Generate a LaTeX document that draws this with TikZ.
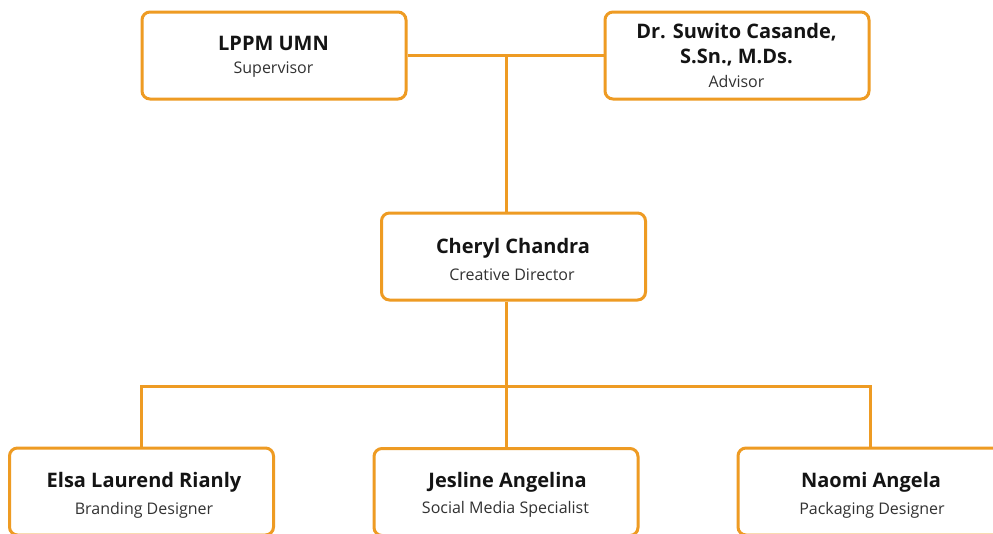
\documentclass[tikz,border=0pt]{standalone}
\usepackage{fontspec}
\setmainfont{Open Sans}
\definecolor{orgc}{RGB}{238,155,35}
\definecolor{namec}{RGB}{20,20,20}
\definecolor{subc}{RGB}{50,50,50}
\tikzset{
  orgbox/.style={draw=orgc, line width=2.25pt, rounded corners=6pt, fill=white,
    minimum width=198pt, minimum height=65.25pt, inner sep=0pt},
  nametext/.style={anchor=base, inner sep=0pt, text=namec, font=\fontsize{15}{18}\selectfont\bfseries},
  roletext/.style={anchor=base, inner sep=0pt, text=subc, font=\fontsize{12}{14}\selectfont},
  orgline/.style={draw=orgc, line width=2.25pt}
}
\begin{document}
\begin{tikzpicture}[x=0.75pt,y=-0.75pt]
\clip (0,0) rectangle (993,533);
\fill[white] (0,0) rectangle (993,533);
% boxes
\node[orgbox] (tl) at (274,55.5) {};
\node[orgbox] (tr) at (737,55.5) {};
\node[orgbox] (md) at (513.5,256.5) {};
\node[orgbox] (bl) at (141.5,491.5) {};
\node[orgbox] (bm) at (506,492) {};
\node[orgbox] (br) at (870,491.5) {};
% texts
\node[nametext] (tln) at (273.5,50.5) {LPPM UMN};
\node[roletext] (tlr) at (273.5,73.5) {Supervisor};
\node[nametext] (trn1) at (736.5,38.3) {Dr. Suwito Casande,};
\node[nametext] (trn2) at (736.5,63.3) {S.Sn., M.Ds.};
\node[roletext] (trr) at (736.5,87.3) {Advisor};
\node[nametext] (mdn) at (513,253.3) {Cheryl Chandra};
\node[roletext] (mdr) at (512,280.7) {Creative Director};
\node[nametext] (bln) at (144,487.3) {Elsa Laurend Rianly};
\node[roletext] (blr) at (144,514) {Branding Designer};
\node[nametext] (bmn) at (507.5,487.3) {Jesline Angelina};
\node[roletext] (bmr) at (505.5,513.5) {Social Media Specialist};
\node[nametext] (brn) at (871,487.3) {Naomi Angela};
\node[roletext] (brr) at (872,514) {Packaging Designer};
% connectors
\coordinate (j1) at (506,56);
\coordinate (j2) at (506,386);
\draw[orgline] (tl.east) -- (tr.west);
\draw[orgline] (j1) -- (j1 |- md.north);
\draw[orgline] (j1 |- md.south) -- (j2);
\draw[orgline] (bl.north) -- (bl.north |- j2) -- (br.north |- j2) -- (br.north);
\draw[orgline] (bm.north) -- (j2);
\end{tikzpicture}
\end{document}
